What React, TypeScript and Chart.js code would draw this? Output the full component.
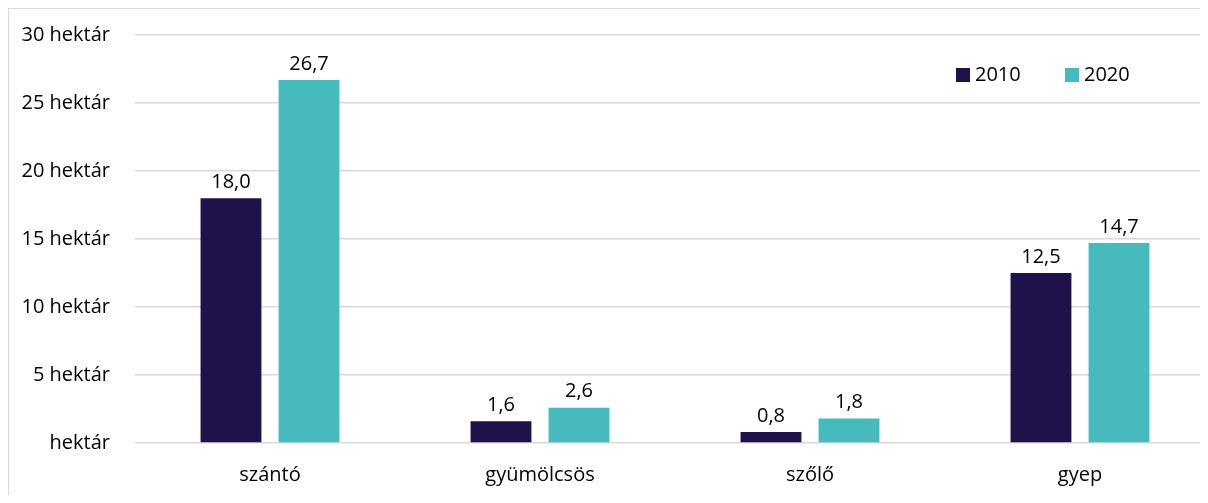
import React, { useEffect, useRef } from "react";
import { Chart, registerables } from "chart.js";

Chart.register(...registerables);

const categories = ["szántó", "gyümölcsös", "szőlő", "gyep"];
const seriesNames = ["2010", "2020"];
const values2010 = [18.0, 1.6, 0.8, 12.5];
const values2020 = [26.7, 2.6, 1.8, 14.7];
const yTicks = [0, 5, 10, 15, 20, 25, 30];
const colors = ["#1F124A", "#46BABD"];

const FONT = "'Open Sans', 'Noto Sans', sans-serif";
const FS = 20;

const fmt = (v: number) => v.toFixed(1).replace(".", ",");

const dataLabels = {
  id: "dataLabels",
  afterDatasetsDraw(chart: any) {
    const ctx = chart.ctx;
    ctx.save();
    ctx.font = `${FS}px ${FONT}`;
    ctx.fillStyle = "#000000";
    ctx.textAlign = "center";
    ctx.textBaseline = "bottom";
    chart.data.datasets.forEach((ds: any, di: number) => {
      const meta = chart.getDatasetMeta(di);
      meta.data.forEach((el: any, i: number) => {
        ctx.fillText(fmt(ds.data[i]), el.x, el.y - 6);
      });
    });
    ctx.restore();
  },
};

const insideLegend = {
  id: "insideLegend",
  afterDraw(chart: any) {
    const ctx = chart.ctx;
    const area = chart.chartArea;
    ctx.save();
    ctx.font = `${FS}px ${FONT}`;
    ctx.textBaseline = "middle";
    ctx.textAlign = "left";
    let x = area.right - 259;
    const y = area.top + 40;
    chart.data.datasets.forEach((ds: any) => {
      ctx.fillStyle = ds.backgroundColor;
      ctx.fillRect(x, y - 7, 14, 14);
      ctx.fillStyle = "#000000";
      ctx.fillText(ds.label, x + 19, y);
      x += 109;
    });
    ctx.restore();
  },
};

export default function App() {
  const ref = useRef<HTMLCanvasElement>(null);
  useEffect(() => {
    document.documentElement.style.overflow = "hidden";
    document.body.style.overflow = "hidden";
    const chart = new Chart(ref.current!, {
      type: "bar",
      data: {
        labels: categories,
        datasets: [
          { label: seriesNames[0], data: values2010, backgroundColor: colors[0] },
          { label: seriesNames[1], data: values2020, backgroundColor: colors[1] },
        ],
      },
      options: {
        animation: false,
        responsive: true,
        maintainAspectRatio: false,
        layout: { padding: { top: 26, right: 10, bottom: 0, left: 0 } },
        datasets: {
          bar: { categoryPercentage: 0.578, barPercentage: 0.78 },
        },
        plugins: {
          legend: { display: false },
          tooltip: { enabled: false },
        },
        scales: {
          x: {
            grid: { display: false, drawTicks: false },
            border: { display: false },
            ticks: {
              color: "#000000",
              font: { family: FONT, size: FS },
              padding: 20,
            },
            afterFit(scale: any) {
              scale.height = 60;
            },
          },
          y: {
            min: 0,
            max: 30,
            afterBuildTicks(scale: any) {
              scale.ticks = yTicks.map((v) => ({ value: v }));
            },
            grid: {
              color: "#D9D9D9",
              lineWidth: 1.5,
              drawTicks: true,
              tickLength: 25,
              tickColor: "rgba(0,0,0,0)",
            },
            border: { display: false },
            ticks: {
              color: "#000000",
              font: { family: FONT, size: FS },
              padding: 0,
              callback: (v: any) => (v === 0 ? "hektár" : `${v} hektár`),
            },
            afterFit(scale: any) {
              scale.width = 126;
            },
          },
        },
      },
      plugins: [dataLabels, insideLegend],
    });
    return () => chart.destroy();
  }, []);
  return (
    <div
      style={{
        borderTop: "1px solid #D9D9D9",
        borderLeft: "1px solid #D9D9D9",
        width: 1200,
        height: 487,
        boxSizing: "border-box",
        overflow: "hidden",
        background: "#fff",
      }}
    >
      <div style={{ position: "relative", width: 1216, height: 494 }}>
        <canvas ref={ref} />
      </div>
    </div>
  );
}
